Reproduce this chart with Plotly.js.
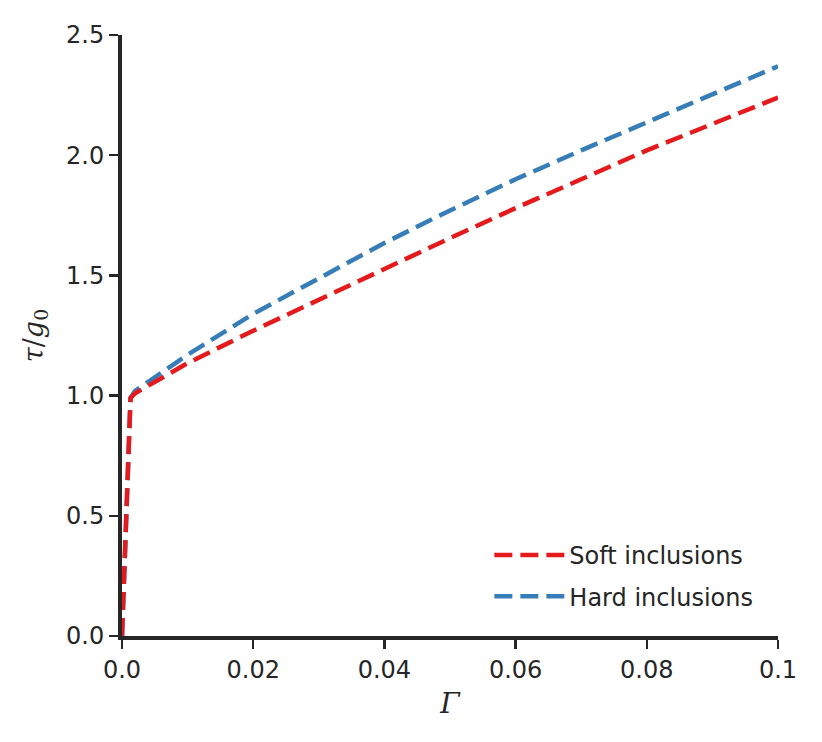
<!DOCTYPE html>
<html>
<head>
<meta charset="utf-8">
<script src="https://cdn.plot.ly/plotly-3.0.1.min.js"></script>
<style>
	body { margin: 0; background: #fff; }
	#plotDiv { width: 822px; height: 742px; }
</style>
</head>
<body>
<div id="plotDiv"></div>
<script>
// shear strain values
const gamma = [0, 0.0013, 0.002, 0.01, 0.02, 0.03, 0.04, 0.05, 0.06, 0.07, 0.08, 0.09, 0.1]
const tauSoft = [0, 0.99, 1.01, 1.135, 1.27, 1.40, 1.53, 1.655, 1.78, 1.90, 2.02, 2.13, 2.24]
const tauHard = [0, 0.99, 1.02, 1.17, 1.34, 1.49, 1.635, 1.77, 1.90, 2.02, 2.135, 2.25, 2.37]

const xTickVals = [0, 0.02, 0.04, 0.06, 0.08, 0.1]
const xTickText = ['0.0', '0.02', '0.04', '0.06', '0.08', '0.1']
const yTickVals = [0, 0.5, 1.0, 1.5, 2.0, 2.5]
const yTickText = ['0.0', '0.5', '1.0', '1.5', '2.0', '2.5']

const ink = '#262626'
const sans = 'DejaVu Sans, sans-serif'
const serif = 'DejaVu Serif, serif'

const trace_hard = {
	name: 'Hard inclusions',
	x: gamma,
	y: tauHard,
	type: 'scatter',
	mode: 'lines',
	legendrank: 2,
	legendgroup: 'hard',
	line: {color: '#377eb8', width: 4.5, dash: '18px,8px'}
}
const trace_soft = {
	name: 'Soft inclusions',
	x: gamma,
	y: tauSoft,
	type: 'scatter',
	mode: 'lines',
	legendrank: 1,
	legendgroup: 'soft',
	line: {color: '#e41a1c', width: 4.5, dash: '18px,8px'}
}

const axisBase = {
	showgrid: false,
	zeroline: false,
	showline: true,
	linecolor: ink,
	linewidth: 4,
	ticks: 'outside',
	ticklen: 9,
	tickwidth: 2.5,
	tickcolor: ink,
	tickfont: {family: sans, size: 24, color: ink},
	fixedrange: true
}

const layout = {
	width: 822,
	height: 742,
	paper_bgcolor: '#fff',
	plot_bgcolor: '#fff',
	margin: {l: 122, r: 44, t: 35, b: 106},
	xaxis: Object.assign({}, axisBase, {
		range: [0, 0.1],
		tickvals: xTickVals,
		ticktext: xTickText,
		title: {text: '<i>Γ</i>', font: {family: serif, size: 28, color: ink}, standoff: 12}
	}),
	yaxis: Object.assign({}, axisBase, {
		range: [0, 2.5],
		tickvals: yTickVals,
		ticktext: yTickText,
		title: {text: '<i>τ</i>/<i>g</i><sub>0</sub>', font: {family: serif, size: 27, color: ink}, standoff: 16}
	}),
	showlegend: true,
	legend: {
		x: 0.56,
		y: 0.10,
		xanchor: 'left',
		yanchor: 'middle',
		traceorder: 'grouped',
		tracegroupgap: 7,
		itemwidth: 70,
		bgcolor: 'rgba(0,0,0,0)',
		font: {family: sans, size: 24, color: ink}
	}
}

const config = {displayModeBar: false, staticPlot: true}
Plotly.newPlot('plotDiv', [trace_hard, trace_soft], layout, config)
</script>
</body>
</html>
